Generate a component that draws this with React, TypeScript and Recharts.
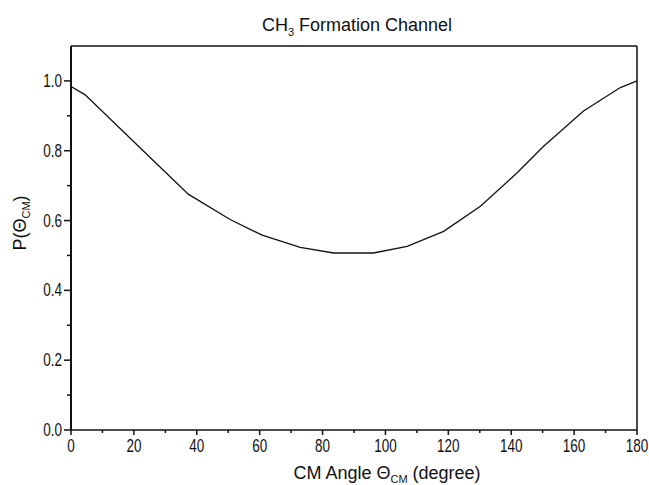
import { Line, LineChart, ReferenceLine, XAxis, YAxis } from 'recharts';

const angles = [0, 4.5, 27.4, 37.4, 50.6, 60.8, 72.9, 83.5, 96.2, 106.9, 118.5, 130.2, 141.9, 150.3, 163, 174.7, 180];
const probability = [0.984, 0.96, 0.761, 0.675, 0.603, 0.558, 0.523, 0.507, 0.507, 0.526, 0.569, 0.641, 0.737, 0.813, 0.914, 0.981, 1.0];

const xTicks = [0, 10, 20, 30, 40, 50, 60, 70, 80, 90, 100, 110, 120, 130, 140, 150, 160, 170, 180];
const yTicks = [0, 0.1, 0.2, 0.3, 0.4, 0.5, 0.6, 0.7, 0.8, 0.9, 1.0];

const data = angles.map((angle, i) => ({ angle, p: probability[i] }));

const FONT = "'Liberation Sans', Arial, Helvetica, sans-serif";
const INK = '#111';

// tick numbers in the original are narrow, so they get squeezed horizontally
const Txt = ({ x, y, anchor = 'middle', size = 18, rotate = 0, squeeze = 1, children }: any) => (
  <text
    transform={`translate(${x} ${y}) rotate(${rotate}) scale(${squeeze} 1)`}
    textAnchor={anchor}
    fontSize={size}
    fontFamily={FONT}
    fill={INK}
  >
    {children}
  </text>
);

const XTick = ({ x, y, payload }: any) => {
  const v = Number(payload.value);
  const major = v % 20 === 0;
  return (
    <g>
      <line x1={x} x2={x} y1={y} y2={y + (major ? 5 : 3)} stroke={INK} strokeWidth={1.5} />
      {major && (
        <Txt x={x} y={y + 22} squeeze={0.75}>
          {v}
        </Txt>
      )}
    </g>
  );
};

const YTick = ({ x, y, payload }: any) => {
  const v = Number(payload.value);
  const major = Math.round(v * 10) % 2 === 0;
  return (
    <g>
      <line x1={x - (major ? 7 : 4)} x2={x} y1={y} y2={y} stroke={INK} strokeWidth={1.5} />
      {major && (
        <Txt x={x - 9} y={y + 6} anchor="end" squeeze={0.75}>
          {v.toFixed(1)}
        </Txt>
      )}
    </g>
  );
};

const App = () => (
  <div style={{ position: 'absolute', left: 0, top: 0, width: 649, height: 485, background: '#fff' }}>
    <LineChart width={649} height={485} data={data} margin={{ top: 46, right: 12, bottom: 0, left: 0 }}>
      <XAxis
        dataKey="angle"
        type="number"
        domain={[0, 180]}
        ticks={xTicks}
        interval={0}
        height={55}
        tickSize={0}
        tickMargin={0}
        tickLine={false}
        tick={<XTick />}
        stroke={INK}
        strokeWidth={1.5}
        label={() => (
          <g>
            <Txt x={357} y={31}>
              CH<tspan dy={5} fontSize={11}>3</tspan>
              <tspan dy={-5}> Formation Channel</tspan>
            </Txt>
            <Txt x={387} y={479}>
              CM Angle Θ<tspan dy={4} fontSize={11}>CM</tspan>
              <tspan dy={-4}> (degree)</tspan>
            </Txt>
          </g>
        )}
      />
      <YAxis
        type="number"
        domain={[0, 1.1]}
        ticks={yTicks}
        interval={0}
        width={71}
        tickSize={0}
        tickMargin={0}
        tickLine={false}
        tick={<YTick />}
        stroke={INK}
        strokeWidth={2}
        label={() => (
          <Txt x={26} y={223} rotate={-90}>
            P(Θ<tspan dy={4} fontSize={11}>CM</tspan>
            <tspan dy={-4}>)</tspan>
          </Txt>
        )}
      />
      <ReferenceLine y={1.1} stroke={INK} strokeWidth={1.5} />
      <ReferenceLine x={180} stroke={INK} strokeWidth={1.5} />
      <Line
        dataKey="p"
        type="linear"
        stroke={INK}
        strokeWidth={1.3}
        dot={false}
        activeDot={false}
        isAnimationActive={false}
      />
    </LineChart>
  </div>
);

export default App;
